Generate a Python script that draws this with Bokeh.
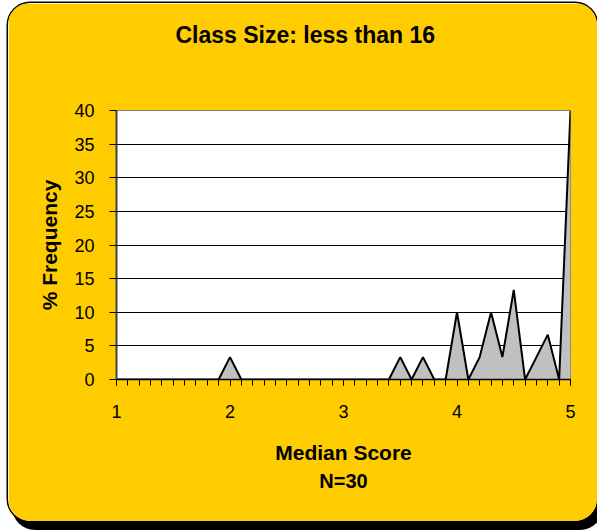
from bokeh.plotting import figure
from bokeh.models import Range1d, FixedTicker, Title
from bokeh.embed import file_html
from bokeh.resources import INLINE

# ---- data ----
scores = [1.0, 1.1, 1.2, 1.3, 1.4, 1.5, 1.6, 1.7, 1.8, 1.9,
          2.0, 2.1, 2.2, 2.3, 2.4, 2.5, 2.6, 2.7, 2.8, 2.9,
          3.0, 3.1, 3.2, 3.3, 3.4, 3.5, 3.6, 3.7, 3.8, 3.9,
          4.0, 4.1, 4.2, 4.3, 4.4, 4.5, 4.6, 4.7, 4.8, 4.9,
          5.0]
freq = [0, 0, 0, 0, 0, 0, 0, 0, 0, 0,
        3.33, 0, 0, 0, 0, 0, 0, 0, 0, 0,
        0, 0, 0, 0, 0, 3.33, 0, 3.33, 0, 0,
        10.0, 0, 3.33, 10.0, 3.33, 13.33, 0, 3.33, 6.67, 0,
        40.0]
x_major_ticks = [1, 2, 3, 4, 5]
y_ticks = [0, 5, 10, 15, 20, 25, 30, 35, 40]
title_text = "Class Size: less than 16"
x_title = "Median Score"
y_title = "% Frequency"
note_text = "N=30"

FONT = "Liberation Sans"
W, H = 589, 518
FL, FT, FW, FH = 108, 107, 454, 269

p = figure(width=W, height=H, output_backend="svg", toolbar_location=None,
           x_range=Range1d(1, 5), y_range=Range1d(0, 40),
           min_border_left=FL, min_border_top=FT,
           min_border_right=W - FL - FW, min_border_bottom=H - FT - FH)
p.border_fill_color = "#FFCC00"
p.background_fill_color = "white"
p.outline_line_color = "#808080"
p.outline_line_width = 1
p.styles = {"margin-left": "8px", "margin-top": "3px",
            "border-radius": "22px", "overflow": "hidden",
            "box-shadow": "0 0 0 1.5px black, 5px 8px 0 1px black"}

# area
p.varea(x=scores, y1=0, y2=freq, fill_color="#C0C0C0")
p.line(x=scores, y=freq, line_color="black", line_width=2)

# grid
p.xgrid.visible = False
p.ygrid.ticker = FixedTicker(ticks=y_ticks)
p.ygrid.grid_line_color = "black"
p.ygrid.grid_line_width = 1

# x axis
xa = p.xaxis[0]
xa.ticker = FixedTicker(ticks=x_major_ticks, minor_ticks=scores)
xa.axis_line_color = "black"
xa.axis_line_width = 1.5
xa.major_tick_out = 6
xa.major_tick_in = 0
xa.minor_tick_out = 6
xa.minor_tick_in = 0
xa.major_tick_line_color = "black"
xa.minor_tick_line_color = "black"
xa.major_label_text_font = FONT
xa.major_label_text_font_size = "18px"
xa.major_label_text_color = "black"
xa.major_label_standoff = 19
xa.axis_label = x_title
xa.axis_label_text_font = FONT
xa.axis_label_text_font_size = "21px"
xa.axis_label_text_font_style = "bold"
xa.axis_label_text_color = "black"
xa.axis_label_standoff = 20

# y axis
ya = p.yaxis[0]
ya.ticker = FixedTicker(ticks=y_ticks)
ya.axis_line_color = "#404040"
ya.axis_line_width = 2
ya.major_tick_out = 7
ya.major_tick_in = 0
ya.minor_tick_out = 0
ya.minor_tick_in = 0
ya.major_tick_line_color = "black"
ya.major_label_text_font = FONT
ya.major_label_text_font_size = "18px"
ya.major_label_text_color = "black"
ya.major_label_standoff = 15
ya.axis_label = y_title
ya.axis_label_text_font = FONT
ya.axis_label_text_font_size = "21px"
ya.axis_label_text_font_style = "bold"
ya.axis_label_text_color = "black"
ya.axis_label_standoff = 10

# titles: spacer nearest the frame, then the main title above it
spacer = Title(text=" ", text_font_size="2px", standoff=53,
               text_color="#FFCC00")
main_title = Title(text=title_text, text_font=FONT, text_font_size="23px",
                   text_font_style="bold", text_color="black",
                   align="left", offset=59, vertical_align="middle",
                   standoff=10)
p.add_layout(spacer, "above")
p.add_layout(main_title, "above")

note = Title(text=note_text, text_font=FONT, text_font_size="20px",
             text_font_style="bold", text_color="black",
             align="center", vertical_align="middle", standoff=4)
p.add_layout(note, "below")

open("out.html", "w").write(file_html(p, INLINE))
